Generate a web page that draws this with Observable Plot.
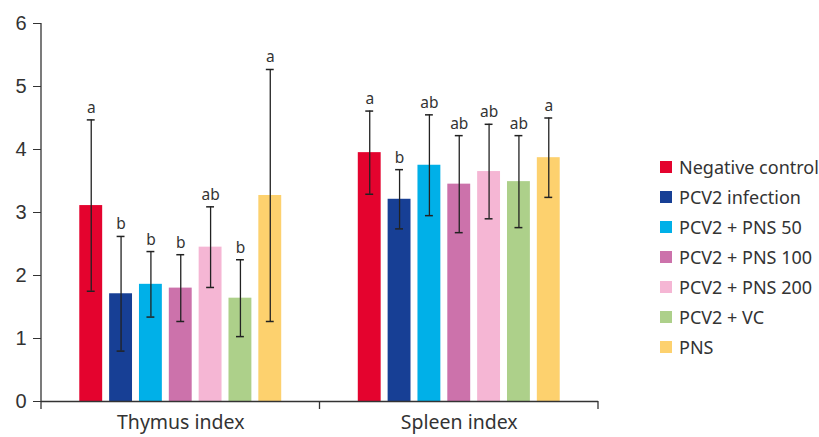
<!DOCTYPE html>
<html><head><meta charset="utf-8">
<script src="https://cdn.jsdelivr.net/npm/d3@7"></script>
<script src="https://cdn.jsdelivr.net/npm/@observablehq/plot@0.6"></script>
<style>
body{margin:0;background:#fff;font-family:"Noto Sans",sans-serif;}
#wrap{position:relative;width:819px;height:437px;overflow:hidden;}
#legend{position:absolute;left:660px;top:152px;color:#333;font-size:18px;}
#legend .row{display:flex;align-items:center;height:30px;white-space:nowrap;}
#legend .sw{width:12px;height:12px;margin-right:7px;flex:none;}
</style></head><body><div id="wrap"><div id="legend"></div></div>
<script>
const groups = ["Thymus index", "Spleen index"];
const treatments = ["Negative control", "PCV2 infection", "PCV2 + PNS 50", "PCV2 + PNS 100", "PCV2 + PNS 200", "PCV2 + VC", "PNS"];
const colors = ["#E4032E", "#173F95", "#00B0E8", "#CC72AB", "#F5B6D4", "#ADD08A", "#FDD16E"];
const thymusMean = [3.11, 1.71, 1.86, 1.80, 2.45, 1.64, 3.27];
const thymusSD = [1.36, 0.91, 0.52, 0.53, 0.64, 0.61, 2.00];
const thymusLetters = ["a", "b", "b", "b", "ab", "b", "a"];
const spleenMean = [3.95, 3.21, 3.75, 3.45, 3.65, 3.49, 3.87];
const spleenSD = [0.66, 0.47, 0.80, 0.77, 0.75, 0.73, 0.63];
const spleenLetters = ["a", "b", "ab", "ab", "ab", "ab", "a"];
const yTicks = [0, 1, 2, 3, 4, 5, 6];

const data = [];
treatments.forEach((t, i) => data.push({group: groups[0], treatment: t, mean: thymusMean[i], lo: thymusMean[i] - thymusSD[i], hi: thymusMean[i] + thymusSD[i], letter: thymusLetters[i]}));
treatments.forEach((t, i) => data.push({group: groups[1], treatment: t, mean: spleenMean[i], lo: spleenMean[i] - spleenSD[i], hi: spleenMean[i] + spleenSD[i], letter: spleenLetters[i]}));

const ink = "#333";
const chart = Plot.plot({
  width: 819, height: 437,
  marginLeft: 41, marginRight: 221, marginTop: 23, marginBottom: 36,
  style: {fontFamily: "Noto Sans", color: ink, background: "#fff", overflow: "visible"},
  fx: {domain: groups, padding: 0, label: null, round: false},
  x: {domain: treatments, paddingInner: 0.233, paddingOuter: 1.283, axis: null, round: false},
  y: {domain: [0, 6], ticks: yTicks},
  color: {domain: treatments, range: colors},
  marks: [
    Plot.barY(data, {fx: "group", x: "treatment", y: "mean", fill: "treatment"}),
    Plot.ruleX(data, {fx: "group", x: "treatment", y1: "lo", y2: "hi", stroke: "#222", strokeWidth: 1.3}),
    Plot.tickY(data, {fx: "group", x: "treatment", y: "lo", stroke: "#222", strokeWidth: 1.5, insetLeft: 7.5, insetRight: 7.5}),
    Plot.tickY(data, {fx: "group", x: "treatment", y: "hi", stroke: "#222", strokeWidth: 1.5, insetLeft: 7.5, insetRight: 7.5}),
    Plot.text(data, {fx: "group", x: "treatment", y: "hi", text: "letter", lineAnchor: "bottom", dy: -7, fontSize: 15.5, fill: ink}),
    Plot.ruleY([0], {stroke: ink, strokeWidth: 1.3}),
    Plot.axisY({ticks: yTicks, tickSize: 8, tickPadding: 7, fontSize: 20, fontFamily: "Liberation Sans", label: null, tickFormat: d => String(d)}),
    Plot.axisFx({anchor: "bottom", tickSize: 0, tickPadding: 14, fontSize: 19.5, label: null})
  ]
});

// axis line and group-edge ticks from the library's scales
const fxs = chart.scale("fx"), ys = chart.scale("y");
const edges = groups.map(g => fxs.apply(g));
edges.push(fxs.apply(groups[groups.length - 1]) + fxs.bandwidth);
const y0 = ys.apply(0), yTop = ys.apply(6);
const svg = d3.select(chart.tagName === "svg" ? chart : chart.querySelector("svg"));
const g = svg.append("g").attr("stroke", ink).attr("stroke-width", 1.3);
g.append("line").attr("x1", edges[0]).attr("x2", edges[0]).attr("y1", yTop).attr("y2", y0 + 8);
edges.slice(1).forEach(x => g.append("line").attr("x1", x).attr("x2", x).attr("y1", y0).attr("y2", y0 + 8));

document.getElementById("wrap").prepend(chart);
const lg = d3.select("#legend");
treatments.forEach((t, i) => {
  const r = lg.append("div").attr("class", "row");
  r.append("div").attr("class", "sw").style("background", colors[i]);
  r.append("span").text(t);
});
</script></body></html>
